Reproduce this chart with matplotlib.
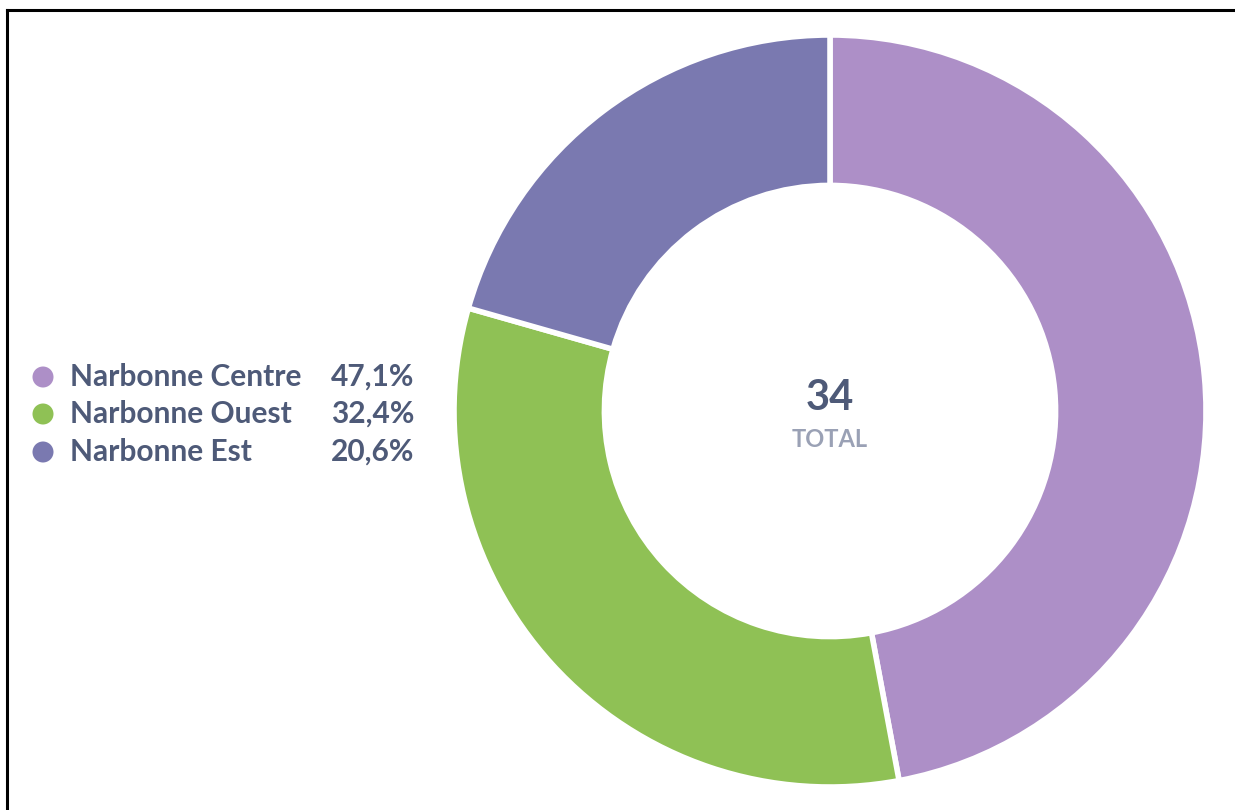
import matplotlib
matplotlib.use("Agg")
import matplotlib.pyplot as plt
from matplotlib.patches import Circle

categories = ["Narbonne Centre", "Narbonne Ouest", "Narbonne Est"]
values = [16, 11, 7]
colors = ["#AD8FC7", "#8FC155", "#7A79B0"]
total = sum(values)
pct_labels = [f"{v / total * 100:.1f}".replace(".", ",") + "%" for v in values]

W, H = 1235, 810
fig = plt.figure(figsize=(W / 100, H / 100), dpi=100)
fig.patch.set_facecolor("white")

# donut axes
cx, cy, R = 830, 411, 376
ax = fig.add_axes([(cx - R) / W, (H - cy - R) / H, 2 * R / W, 2 * R / H])
ax.pie(values, colors=colors, startangle=90, counterclock=False,
       radius=1.0, wedgeprops=dict(width=0.4, edgecolor="white", linewidth=4))
ax.set_xlim(-1, 1)
ax.set_ylim(-1, 1)
ax.set_aspect("equal")
ax.axis("off")

text_col = "#4E5A78"
fam = ["Lato", "DejaVu Sans"]
ax.text(0, 0.035, str(total), ha="center", va="center", fontsize=30,
        fontweight="bold", color=text_col, family=fam)
ax.text(0, -0.075, "TOTAL", ha="center", va="center", fontsize=17,
        color="#9AA1B5", family=fam, fontweight="bold")

# overlay axes in pixel coordinates for legend and frame
ov = fig.add_axes([0, 0, 1, 1], zorder=-1)
ov.set_xlim(0, W)
ov.set_ylim(H, 0)
ov.axis("off")

ys = [377, 414, 452]
for name, pct, col, y in zip(categories, pct_labels, colors, ys):
    ov.add_patch(Circle((43, y), 10.5, color=col, lw=0))
    ov.text(70, y, name, ha="left", va="center", fontsize=21.5,
            fontweight="bold", color=text_col, family=fam)
    ov.text(414, y, pct, ha="right", va="center", fontsize=21.5,
            fontweight="bold", color=text_col, family=fam)

# frame (top and left only)
ov.plot([7, W], [10, 10], color="black", lw=2.2, solid_capstyle="projecting")
ov.plot([7, 7], [10, H], color="black", lw=2.2, solid_capstyle="projecting")

fig.savefig("out.png", dpi=100, facecolor="white")
